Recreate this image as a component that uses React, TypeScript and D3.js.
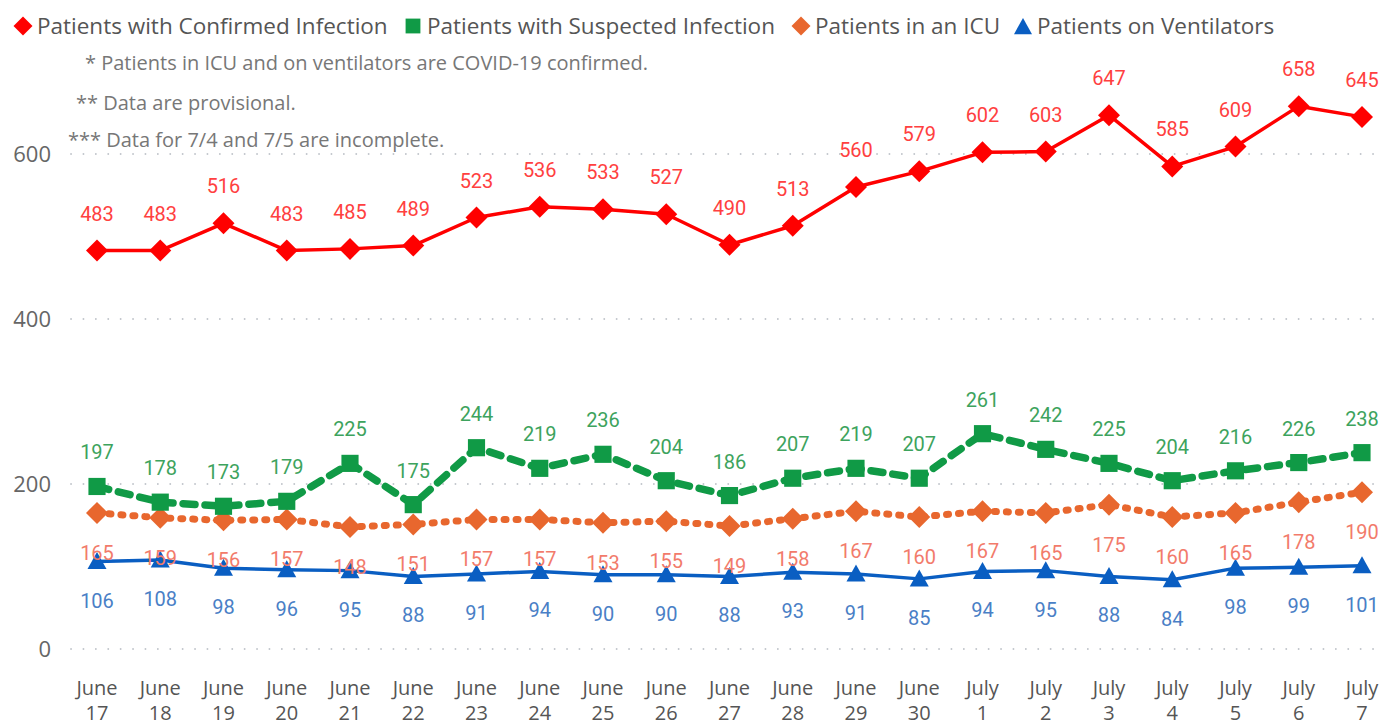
import React, { useRef, useEffect } from 'react';
import * as d3 from 'd3';

const days = [
  'June 17', 'June 18', 'June 19', 'June 20', 'June 21', 'June 22', 'June 23',
  'June 24', 'June 25', 'June 26', 'June 27', 'June 28', 'June 29', 'June 30',
  'July 1', 'July 2', 'July 3', 'July 4', 'July 5', 'July 6', 'July 7',
];
const confirmed = [483, 483, 516, 483, 485, 489, 523, 536, 533, 527, 490, 513, 560, 579, 602, 603, 647, 585, 609, 658, 645];
const suspected = [197, 178, 173, 179, 225, 175, 244, 219, 236, 204, 186, 207, 219, 207, 261, 242, 225, 204, 216, 226, 238];
const icu = [165, 159, 156, 157, 148, 151, 157, 157, 153, 155, 149, 158, 167, 160, 167, 165, 175, 160, 165, 178, 190];
const ventilators = [106, 108, 98, 96, 95, 88, 91, 94, 90, 90, 88, 93, 91, 85, 94, 95, 88, 84, 98, 99, 101];
const yTicks = [0, 200, 400, 600];
const notes = [
  '* Patients in ICU and on ventilators are COVID-19 confirmed.',
  '** Data are provisional.',
  '*** Data for 7/4 and 7/5 are incomplete.',
];

const labelFont = 'Roboto, "DejaVu Sans Condensed", sans-serif';
const uiFont = '"Open Sans", "Noto Sans", sans-serif';

const App = () => {
  const ref = useRef<SVGSVGElement>(null);

  useEffect(() => {
    if (!ref.current) return;
    const svg = d3.select(ref.current);
    svg.selectAll('*').remove();

    const width = 1383;
    const height = 727;
    svg.attr('width', width).attr('height', height);

    const x = d3.scalePoint<string>().domain(days).range([97, 1362]);
    const y = d3.scaleLinear().domain([0, 600]).range([649, 154]);

    // grid + y labels
    const grid = svg.append('g');
    grid
      .selectAll('line')
      .data(yTicks)
      .enter()
      .append('line')
      .attr('x1', 71)
      .attr('x2', 1380)
      .attr('y1', (d) => y(d))
      .attr('y2', (d) => y(d))
      .attr('stroke', '#c2c6cc')
      .attr('stroke-width', 1.8)
      .attr('stroke-linecap', 'round')
      .attr('stroke-dasharray', '0.1 12.3');
    grid
      .selectAll('text')
      .data(yTicks)
      .enter()
      .append('text')
      .text((d) => d)
      .attr('x', 51)
      .attr('y', (d) => y(d))
      .attr('dy', '0.35em')
      .attr('text-anchor', 'end')
      .attr('font-size', 22)
      .attr('fill', '#666')
      .style('font-family', uiFont);

    // x labels (two lines)
    const xl = svg.append('g');
    days.forEach((d) => {
      const [m, n] = d.split(' ');
      const t = xl
        .append('text')
        .attr('x', x(d) as number)
        .attr('text-anchor', 'middle')
        .attr('font-size', 20)
        .attr('fill', '#555')
        .style('font-family', uiFont);
      t.append('tspan').attr('x', x(d) as number).attr('y', 695).text(m);
      t.append('tspan').attr('x', x(d) as number).attr('y', 720).text(n);
    });

    const series = [
      { values: confirmed, color: '#ff0000', labelColor: '#ff4040', width: 3.5, dash: null, cap: 'butt', symbol: 'diamond', off: -37 },
      { values: suspected, color: '#109a46', labelColor: '#3da35d', width: 7.5, dash: '12 10', cap: 'round', symbol: 'square', off: -34 },
      { values: icu, color: '#e8672e', labelColor: '#f27b6b', width: 7, dash: '2 10', cap: 'round', symbol: 'diamond', off: 40 },
      { values: ventilators, color: '#0a5ec2', labelColor: '#4a7fc6', width: 3.5, dash: null, cap: 'butt', symbol: 'triangle', off: 39 },
    ];

    const line = d3
      .line<number>()
      .x((_, i) => x(days[i]) as number)
      .y((d) => y(d));

    const shape = (s: string, size: number) => {
      if (s === 'diamond') {
        const h = size;
        return `M0,${-h}L${h},0L0,${h}L${-h},0Z`;
      }
      if (s === 'square') {
        const h = size * 0.78;
        return `M${-h},${-h}H${h}V${h}H${-h}Z`;
      }
      const h = size;
      return `M0,${-h * 0.95}L${h * 0.95},${h * 0.75}L${-h * 0.95},${h * 0.75}Z`;
    };

    // lines + markers, bottom series first
    [...series].reverse().forEach((s) => {
      const g = svg.append('g');
      g.append('path')
        .datum(s.values)
        .attr('d', line)
        .attr('fill', 'none')
        .attr('stroke', s.color)
        .attr('stroke-width', s.width)
        .attr('stroke-linejoin', 'round')
        .attr('stroke-linecap', s.cap)
        .attr('stroke-dasharray', s.dash);
      g.selectAll('path.m')
        .data(s.values)
        .enter()
        .append('path')
        .attr('class', 'm')
        .attr('d', shape(s.symbol, s.symbol === 'triangle' ? 10 : 11))
        .attr('transform', (d, i) => `translate(${x(days[i])},${y(d)})`)
        .attr('fill', s.color);
    });

    // data labels
    series.forEach((s) => {
      svg
        .append('g')
        .selectAll('text')
        .data(s.values)
        .enter()
        .append('text')
        .text((d) => d)
        .attr('x', (_, i) => x(days[i]) as number)
        .attr('y', (d) => y(d) + s.off)
        .attr('dy', '0.35em')
        .attr('text-anchor', 'middle')
        .attr('font-size', 20)
        .attr('fill', s.labelColor)
        .style('font-family', labelFont);
    });

    // legend
    const legend = [
      { name: 'Patients with Confirmed Infection', color: '#ff0000', symbol: 'diamond', x: 23 },
      { name: 'Patients with Suspected Infection', color: '#109a46', symbol: 'square', x: 413 },
      { name: 'Patients in an ICU', color: '#e8672e', symbol: 'diamond', x: 801 },
      { name: 'Patients on Ventilators', color: '#0a5ec2', symbol: 'triangle', x: 1023 },
    ];
    const lg = svg.append('g');
    legend.forEach((l) => {
      lg.append('path')
        .attr('d', shape(l.symbol, l.symbol === 'square' ? 9.5 : 9.5))
        .attr('transform', `translate(${l.x},${l.symbol === 'triangle' ? 27 : 26})`)
        .attr('fill', l.color);
      lg.append('text')
        .text(l.name)
        .attr('x', l.x + 14)
        .attr('y', 26)
        .attr('dy', '0.35em')
        .attr('font-size', 22.5)
        .attr('fill', '#555')
        .style('font-family', uiFont);
    });

    // notes
    const noteX = [85, 76, 68];
    const noteY = [63, 103, 140];
    svg
      .append('g')
      .selectAll('text')
      .data(notes)
      .enter()
      .append('text')
      .text((d) => d)
      .attr('x', (_, i) => noteX[i])
      .attr('y', (_, i) => noteY[i])
      .attr('dy', '0.35em')
      .attr('font-size', 20)
      .attr('fill', '#777')
      .style('font-family', uiFont);
  }, []);

  return <svg ref={ref} style={{ position: 'absolute', left: 0, top: 0, background: '#fff' }} />;
};

export default App;
